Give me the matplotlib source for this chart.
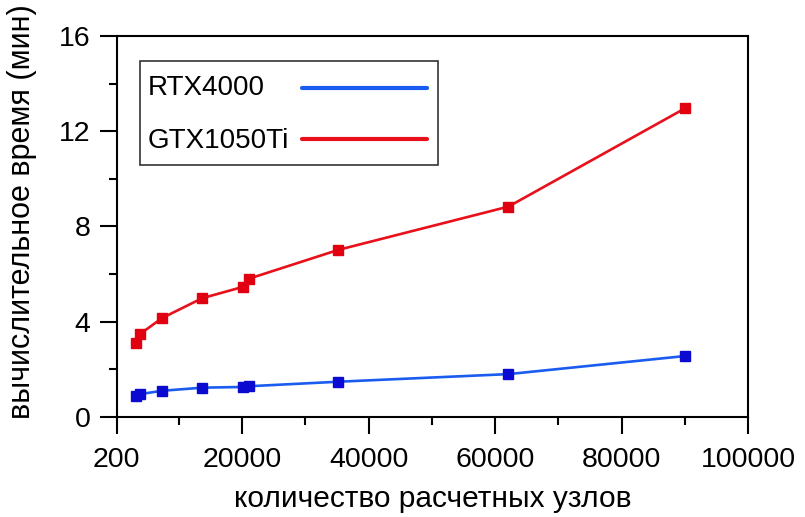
import matplotlib
matplotlib.use("Agg")
import matplotlib.pyplot as plt
from matplotlib.lines import Line2D
from matplotlib.patches import Rectangle
from matplotlib.ticker import FixedLocator, MultipleLocator

plt.rcParams['font.family'] = ['Liberation Sans', 'DejaVu Sans']

nodes = [3200, 3900, 7400, 13700, 20200, 21100, 35200, 62100, 90000]
rtx4000 = [0.87, 0.95, 1.09, 1.22, 1.25, 1.28, 1.47, 1.79, 2.55]
gtx1050ti = [3.11, 3.48, 4.15, 4.98, 5.46, 5.80, 7.01, 8.83, 12.96]

xticks = [200, 20000, 40000, 60000, 80000, 100000]
xticklabels = ["200", "20000", "40000", "60000", "80000", "100000"]
yticks = [0, 4, 8, 12, 16]

series_names = ["RTX4000", "GTX1050Ti"]
line_colors = ["#1a5cf0", "#e8101a"]
marker_colors = ["#0a0ad0", "#e00010"]

fig = plt.figure(figsize=(8.05, 5.17), dpi=100)
ax = fig.add_axes([0.145, 0.194, 0.7846, 0.7364])

for vals, lc, mc in zip([rtx4000, gtx1050ti], line_colors, marker_colors):
    ax.plot(nodes, vals, color=lc, lw=1.9, marker='s', markersize=6.5,
            markerfacecolor=mc, markeredgecolor=mc, zorder=3)

ax.set_xlim(200, 100000)
ax.set_ylim(0, 16)
ax.set_xticks(xticks)
ax.set_xticklabels(xticklabels)
ax.xaxis.set_minor_locator(FixedLocator([10000, 30000, 50000, 70000, 90000]))
ax.set_yticks(yticks)
ax.yaxis.set_minor_locator(MultipleLocator(2))

for s in ax.spines.values():
    s.set_linewidth(1.5)
ax.tick_params(which='major', direction='out', length=12, width=1.5, labelsize=20.5)
ax.tick_params(which='minor', direction='out', length=6, width=1.5)
ax.tick_params(axis='x', which='major', pad=10)
ax.tick_params(axis='y', which='major', pad=7)

ax.set_xlabel("количество расчетных узлов", fontsize=21.5)
ax.xaxis.set_label_coords(0.501, -0.236)
ax.xaxis.label.set_va('baseline')
ax.set_ylabel("вычислительное время (мин)", fontsize=22)
ax.yaxis.set_label_coords(-0.126, 0.539)

# legend (box, labels left-aligned, key lines to the right)
ax.add_patch(Rectangle((0.0369, 0.661), 0.4724, 0.274, transform=ax.transAxes,
                       facecolor='white', edgecolor='#333333', lw=1.2, zorder=5))
leg_text_y = [0.845, 0.705]
leg_line_y = [0.864, 0.7287]
for name, c, ty, ly in zip(series_names, line_colors, leg_text_y, leg_line_y):
    ax.text(0.0496, ty, name, transform=ax.transAxes, fontsize=20,
            ha='left', va='baseline', zorder=6)
    ax.add_line(Line2D([0.2934, 0.4913], [ly, ly], transform=ax.transAxes,
                       color=c, lw=3, solid_capstyle='round', zorder=6))

fig.savefig("out.png", dpi=100)
